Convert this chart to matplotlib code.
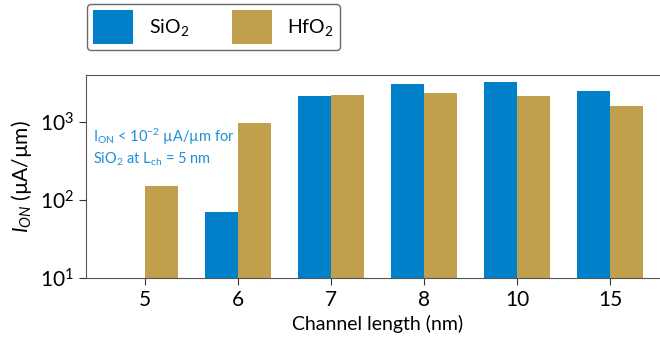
import matplotlib
matplotlib.use('Agg')
import matplotlib.pyplot as plt
import numpy as np

plt.rcParams['font.family'] = ['Lato', 'DejaVu Sans']
plt.rcParams['mathtext.fontset'] = 'custom'
plt.rcParams['mathtext.rm'] = 'Lato'
plt.rcParams['mathtext.it'] = 'Lato:italic'

# data
lengths = ['5', '6', '7', '8', '10', '15']
sio2 = [np.nan, 70, 2150, 3070, 3240, 2490]
hfo2 = [151, 970, 2200, 2350, 2150, 1600]

blue = '#0080c8'
gold = '#c0a04c'

fig = plt.figure(figsize=(6.6, 3.39), dpi=100)
ax = fig.add_axes([0.130, 0.180, 0.884, 0.599])

x = np.arange(len(lengths))
w = 0.355
ax.bar(x - w / 2, sio2, w, color=blue, label='SiO$_2$')
ax.bar(x + w / 2, hfo2, w, color=gold, label='HfO$_2$')

ax.set_yscale('log')
ax.set_ylim(10, 4000)
ax.set_xlim(-0.634, 5.634)
ax.minorticks_off()
ax.set_yticks([10, 100, 1000])
ax.set_xticks(x)
ax.set_xticklabels(lengths)
ax.tick_params(labelsize=15, length=5, color='#333333')

for s in ax.spines.values():
    s.set_color('#555555')
ax.spines['right'].set_visible(False)

ax.set_ylabel('$I_{ON}$ (µA/µm)', fontsize=15)
ax.set_xlabel('Channel length (nm)', fontsize=14)

ax.text(0.012, 0.745, '$\\mathrm{I_{ON}}$ < 10$^{-2}$ µA/µm for\nSiO$_2$ at $\\mathrm{L_{ch}}$ = 5 nm',
        transform=ax.transAxes, color='#1e90d6', fontsize=10.5, va='top', linespacing=1.3)

leg = fig.legend(loc='upper left', bbox_to_anchor=(0.132, 0.988), ncol=2, fontsize=14,
                 handlelength=2.06, handleheight=2.3, columnspacing=2.2, handletextpad=0.8,
                 frameon=True, borderpad=0.3, borderaxespad=0)
leg.get_frame().set_edgecolor('#444444')
leg.get_frame().set_linewidth(1.0)

fig.savefig('out.png', dpi=100)
